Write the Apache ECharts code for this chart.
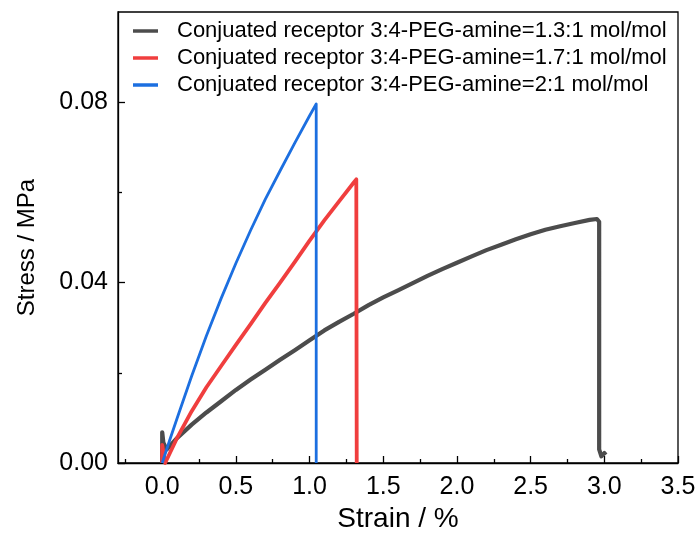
<!DOCTYPE html>
<html>
<head>
<meta charset="utf-8">
<script src="https://cdn.jsdelivr.net/npm/echarts@6/dist/echarts.min.js"></script>
<style>html,body{margin:0;padding:0;background:#fff;}#c{width:697px;height:533px;}</style>
</head>
<body>
<div id="c"></div>
<script>
const seriesNames = [
  'Conjuated receptor 3:4-PEG-amine=1.3:1 mol/mol',
  'Conjuated receptor 3:4-PEG-amine=1.7:1 mol/mol',
  'Conjuated receptor 3:4-PEG-amine=2:1 mol/mol'
];
const seriesColors = ['#4c4c4c', '#f03e3e', '#1c6fe0'];
const xTickValues = [0, 0.5, 1.0, 1.5, 2.0, 2.5, 3.0, 3.5];
const xMinorTickValues = [-0.25, 0.25, 0.75, 1.25, 1.75, 2.25, 2.75, 3.25];
const yTickValues = [0, 0.04, 0.08];
const yMinorTickValues = [0.02, 0.06];

// strain (%)
const grayStrain = [0, 0, 0.008, 0.03, 0.1, 0.2, 0.3, 0.4, 0.5, 0.6, 0.7, 0.8, 0.9, 1.0, 1.1, 1.2, 1.3, 1.4, 1.5, 1.6, 1.7, 1.8, 1.9, 2.0, 2.1, 2.2, 2.3, 2.4, 2.5, 2.6, 2.7, 2.8, 2.9, 2.95, 2.965, 2.965, 2.98, 3.0, 3.01];
// stress (MPa)
const grayStress = [0, 0.0068, 0.0045, 0.003, 0.0055, 0.0085, 0.0112, 0.0137, 0.0162, 0.0185, 0.0207, 0.0229, 0.025, 0.0272, 0.0294, 0.0313, 0.0331, 0.035, 0.0367, 0.0383, 0.0399, 0.0415, 0.043, 0.0444, 0.0458, 0.0472, 0.0484, 0.0496, 0.0507, 0.0517, 0.0525, 0.0532, 0.0539, 0.0541, 0.0535, 0.003, 0.0015, 0.0022, 0.0018];

const redStrain = [0, 0, 0.01, 0.02, 0.1, 0.2, 0.3, 0.4, 0.5, 0.6, 0.7, 0.8, 0.9, 1.0, 1.1, 1.2, 1.3, 1.317, 1.32, 1.32];
const redStress = [0, 0.004, 0.002, 0, 0.0055, 0.0115, 0.0168, 0.0215, 0.0262, 0.0308, 0.0355, 0.04, 0.0446, 0.0493, 0.0538, 0.058, 0.0622, 0.0629, 0.0625, 0];

const blueStrain = [0, 0.05, 0.1, 0.2, 0.3, 0.4, 0.5, 0.6, 0.7, 0.8, 0.9, 1.0, 1.045, 1.045];
const blueStress = [0, 0.005, 0.0098, 0.0193, 0.0282, 0.0365, 0.0443, 0.0516, 0.0585, 0.0648, 0.071, 0.077, 0.0796, 0];

const font = 'Liberation Sans, Arial, sans-serif';
const zip = (a, b) => a.map((v, i) => [v, b[i]]);

const chart = echarts.init(document.getElementById('c'), null, {renderer: 'canvas'});
const lineWidths = [4.2, 3.8, 2.8];
const datas = [zip(grayStrain, grayStress), zip(redStrain, redStress), zip(blueStrain, blueStress)];

chart.setOption({
  animation: false,
  backgroundColor: '#fff',
  grid: {left: 118, right: 19, top: 12, bottom: 70, show: true, borderColor: '#000', borderWidth: 1.3, backgroundColor: 'transparent', containLabel: false, outerBoundsMode: 'none'},
  legend: {
    orient: 'vertical', left: 133, top: 20, padding: 0, itemGap: 5,
    icon: 'rect', itemWidth: 25, itemHeight: 3.5,
    data: seriesNames.map((n, i) => ({name: n, itemStyle: {color: seriesColors[i]}})),
    textStyle: {fontFamily: font, fontSize: 22, color: '#000', lineHeight: 22, padding: [0, 0, 0, 14]}
  },
  xAxis: [{
    type: 'value', min: -0.3, max: 3.5, position: 'bottom',
    name: 'Strain / %', nameLocation: 'middle', nameGap: 42,
    nameTextStyle: {fontFamily: font, fontSize: 28, color: '#000'},
    axisLine: {show: true, onZero: false, lineStyle: {color: '#000', width: 1.3}},
    axisTick: {show: true, inside: true, length: 7, customValues: xTickValues, lineStyle: {color: '#000', width: 1.3}},
    axisLabel: {customValues: xTickValues, fontFamily: font, fontSize: 25, color: '#000', margin: 12, formatter: v => v.toFixed(1)},
    splitLine: {show: false}
  }, {
    type: 'value', min: -0.3, max: 3.5, position: 'bottom',
    axisLine: {show: false, onZero: false},
    axisTick: {show: true, inside: true, length: 4, customValues: xMinorTickValues, lineStyle: {color: '#000', width: 1.3}},
    axisLabel: {show: false}, splitLine: {show: false}
  }],
  yAxis: [{
    type: 'value', min: 0, max: 0.1, position: 'left',
    name: 'Stress / MPa', nameLocation: 'middle', nameGap: 79,
    nameTextStyle: {fontFamily: font, fontSize: 24, color: '#000', padding: [0, 20, 0, 0]},
    axisLine: {show: true, onZero: false, lineStyle: {color: '#000', width: 1.3}},
    axisTick: {show: true, inside: true, length: 7, customValues: yTickValues, lineStyle: {color: '#000', width: 1.3}},
    axisLabel: {customValues: yTickValues, fontFamily: font, fontSize: 25, color: '#000', margin: 10, formatter: v => v.toFixed(2)},
    splitLine: {show: false}
  }, {
    type: 'value', min: 0, max: 0.1, position: 'left',
    axisLine: {show: false, onZero: false},
    axisTick: {show: true, inside: true, length: 4, customValues: yMinorTickValues, lineStyle: {color: '#000', width: 1.3}},
    axisLabel: {show: false}, splitLine: {show: false}
  }],
  series: seriesNames.map((n, i) => ({
    name: n, type: 'line', data: datas[i], showSymbol: false, symbol: 'none',
    xAxisIndex: 0, yAxisIndex: 0,
    lineStyle: {color: seriesColors[i], width: lineWidths[i], join: 'round'},
    itemStyle: {color: seriesColors[i]}
  }))
});
</script>
</body>
</html>
